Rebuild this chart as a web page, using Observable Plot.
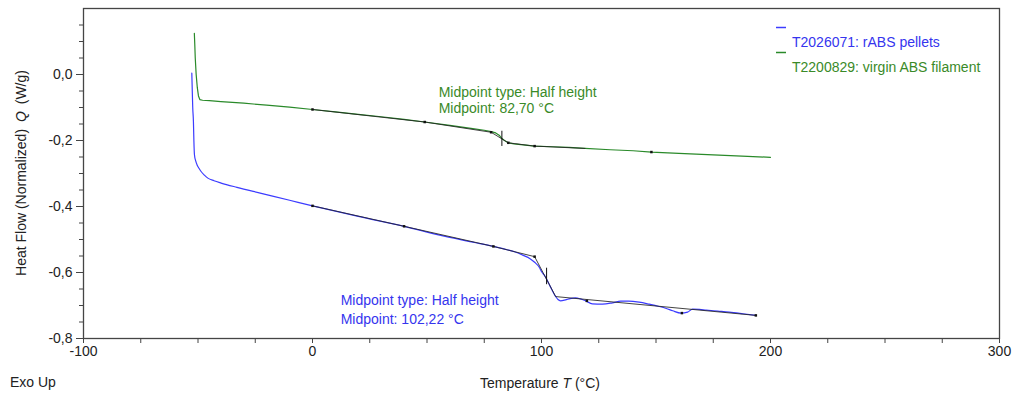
<!DOCTYPE html>
<html><head><meta charset="utf-8">
<script src="https://cdn.jsdelivr.net/npm/d3@7"></script>
<script src="https://cdn.jsdelivr.net/npm/@observablehq/plot@0.6"></script>
<style>
body{margin:0;background:#fff;}
svg{font-family:"Liberation Sans",Arial,sans-serif;}
</style>
</head><body><div id="chart"></div>
<script>
// ---- series ----
const seriesNames = ["T2026071: rABS pellets", "T2200829: virgin ABS filament"];
const seriesColors = ["#3c3cff", "#2a8a2a"];
const textColors = ["#3535ee", "#3a8a28"];

// rABS pellets (blue)
const blueT = [-52.7, -52.5, -52.3, -52.0, -51.8, -51.55, -51.0, -50.4, -49.5, -48.65, -47.2, -45.7, -43, -39.9, -33, -22.4, -10, 0, 20, 40, 55, 70, 79, 85, 88.5, 92, 95, 97, 99, 100, 101.6, 103.8, 106.2, 107.2, 108.3, 110.5, 112.5, 114.9, 117, 119.3, 122.2, 126.6, 131, 134.6, 138, 142.6, 147, 151.4, 154.5, 157.3, 160.9, 163.8, 166, 169, 171.9, 177, 182, 188, 193.6];
const blueQ = [0.004, -0.05, -0.1, -0.142, -0.2, -0.243, -0.262, -0.274, -0.285, -0.294, -0.305, -0.314, -0.322, -0.329, -0.342, -0.360, -0.381, -0.398, -0.430, -0.460, -0.486, -0.508, -0.521, -0.531, -0.538, -0.548, -0.558, -0.569, -0.584, -0.597, -0.612, -0.642, -0.673, -0.682, -0.686, -0.683, -0.679, -0.677, -0.680, -0.686, -0.695, -0.696, -0.692, -0.687, -0.687, -0.690, -0.696, -0.703, -0.709, -0.716, -0.723, -0.720, -0.711, -0.712, -0.714, -0.717, -0.720, -0.725, -0.730];

// virgin ABS filament (green)
const greenT = [-51.6, -51.4, -51.2, -50.8, -50.3, -49.8, -49.2, -48, -45, -40, -30, -20, -10, 0, 10, 20, 30, 40, 49, 60, 70, 75, 78, 80, 81.5, 82.7, 84, 85.5, 88, 92, 97, 105, 112, 119, 130, 140, 148, 160, 170, 180, 190, 200];
const greenQ = [0.125, 0.09, 0.05, 0.0, -0.04, -0.065, -0.076, -0.078, -0.079, -0.082, -0.087, -0.093, -0.099, -0.106, -0.113, -0.121, -0.128, -0.136, -0.144, -0.154, -0.164, -0.169, -0.173, -0.177, -0.184, -0.194, -0.201, -0.207, -0.210, -0.213, -0.217, -0.219, -0.221, -0.224, -0.228, -0.231, -0.235, -0.239, -0.242, -0.245, -0.248, -0.251];

// baseline / tangent construction (black)
const blueBaseT = [0, 40, 79, 97, 106.2, 193.6];
const blueBaseQ = [-0.398, -0.460, -0.521, -0.552, -0.673, -0.730];
const blueDotT = [0, 40, 79, 97, 119.8, 161.3, 193.6];
const blueDotQ = [-0.398, -0.460, -0.521, -0.552, -0.686, -0.723, -0.730];
const greenBaseT = [0, 49, 78, 85.5, 97, 119];
const greenBaseQ = [-0.106, -0.144, -0.175, -0.207, -0.217, -0.224];
const greenDotT = [0, 49, 78, 85.5, 97, 148];
const greenDotQ = [-0.106, -0.144, -0.175, -0.207, -0.217, -0.235];

// midpoints
const midT = [102.22, 82.70];
const midTop = [-0.587, -0.172];
const midBottom = [-0.637, -0.218];

// annotations
const annLines = ["Midpoint type: Half height", "Midpoint: 102,22 °C", "Midpoint type: Half height", "Midpoint: 82,70 °C"];
const annT = [12.3, 12.3, 55.1, 55.1];
const annQ = [-0.686, -0.742, -0.0535, -0.102];
const annSeries = [0, 0, 1, 1];

// axes
const xTicks = [-100, 0, 100, 200, 300];
const xTickLabels = ["-100", "0", "100", "200", "300"];
const xMinorTicks = d3.range(-100, 301, 25);
const yTicks = [0, -0.2, -0.4, -0.6, -0.8];
const yTickLabels = ["0,0", "-0,2", "-0,4", "-0,6", "-0,8"];
const yMinorTicks = d3.range(-16, 4).map(k => k * 0.05);

// ---- build ----
const FS = 14;
const zip = (a, b) => a.map((t, i) => ({T: t, Q: b[i]}));
const blue = zip(blueT, blueQ), green = zip(greenT, greenQ);
const blueBase = zip(blueBaseT, blueBaseQ), greenBase = zip(greenBaseT, greenBaseQ);
const dots = zip(blueDotT, blueDotQ).concat(zip(greenDotT, greenDotQ));
const mids = midT.map((t, i) => ({T: t, y1: midTop[i], y2: midBottom[i]}));
const ann = annLines.map((s, i) => ({T: annT[i], Q: annQ[i], text: s, c: textColors[annSeries[i]]}));

const axisColor = "#454545";
const plot = Plot.plot({
  width: 1015, height: 395,
  marginLeft: 83, marginRight: 16, marginTop: 8, marginBottom: 57,
  style: {fontFamily: "'Liberation Sans', Arial, sans-serif", fontSize: FS + "px", background: "#fff", color: "#222"},
  x: {domain: [-100, 300], axis: null},
  y: {domain: [-0.8, 0.2], axis: null},
  marks: [
    Plot.axisX({ticks: xMinorTicks, tickSize: 5, tickFormat: () => "", stroke: axisColor, label: null}),
    Plot.axisX({ticks: xTicks, tickSize: 5, tickPadding: 3, tickFormat: d => xTickLabels[xTicks.indexOf(d)], stroke: axisColor, label: null, fill: "#222", fontSize: FS}),
    Plot.axisY({ticks: yMinorTicks, tickSize: 4, tickFormat: () => "", stroke: axisColor, label: null}),
    Plot.axisY({ticks: yTicks, tickSize: 7, tickPadding: 4, tickFormat: d => yTickLabels[yTicks.findIndex(v => Math.abs(v - d) < 1e-9)], stroke: axisColor, label: null, fill: "#222", fontSize: FS}),
    Plot.frame({stroke: axisColor, strokeWidth: 1.3}),
    Plot.line(green, {x: "T", y: "Q", stroke: seriesColors[1], strokeWidth: 1.2}),
    Plot.line(blue, {x: "T", y: "Q", stroke: seriesColors[0], strokeWidth: 1.2, curve: "monotone-x"}),
    Plot.line(greenBase, {x: "T", y: "Q", stroke: "#222", strokeWidth: 1, strokeOpacity: 0.85}),
    Plot.line(blueBase, {x: "T", y: "Q", stroke: "#222", strokeWidth: 1, strokeOpacity: 0.85}),
    Plot.ruleX(mids, {x: "T", y1: "y1", y2: "y2", stroke: "#111", strokeWidth: 1}),
    Plot.dot(dots, {x: "T", y: "Q", symbol: "square", r: 1.4, fill: "#111", stroke: null}),
    Plot.text(ann, {x: "T", y: "Q", text: "text", fill: "c", textAnchor: "start", lineAnchor: "middle", fontSize: FS})
  ]
});
document.getElementById("chart").appendChild(plot);

// axis titles, legend, note (real SVG text)
const svg = d3.select(plot);
const yl = svg.append("text").attr("transform", "translate(22,173) rotate(-90)")
  .attr("text-anchor", "middle").attr("dominant-baseline", "middle")
  .attr("font-size", FS).attr("fill", "#222");
yl.append("tspan").text("Heat Flow (Normalized) ");
yl.append("tspan").attr("font-style", "italic").attr("dx", 3).text("Q");
yl.append("tspan").attr("dx", 3).text(" (W/g)");

const xl = svg.append("text").attr("x", 540).attr("y", 384)
  .attr("text-anchor", "middle").attr("dominant-baseline", "middle")
  .attr("font-size", FS).attr("fill", "#222");
xl.append("tspan").text("Temperature ");
xl.append("tspan").attr("font-style", "italic").text("T");
xl.append("tspan").text(" (°C)");

svg.append("text").attr("x", 10).attr("y", 383).attr("text-anchor", "start").attr("dominant-baseline", "middle")
  .attr("font-size", FS).attr("fill", "#222").text("Exo Up");

const lg = svg.append("g");
seriesNames.forEach((name, i) => {
  const y0 = 27.5 + i * 25;
  lg.append("line").attr("x1", 776).attr("x2", 786).attr("y1", y0).attr("y2", y0)
    .attr("stroke", seriesColors[i]).attr("stroke-width", 1.5);
  lg.append("text").attr("x", 792).attr("y", y0 + 16).attr("text-anchor", "start").attr("dominant-baseline", "middle")
    .attr("font-size", FS).attr("fill", textColors[i]).text(name);
});
</script>
</body></html>
